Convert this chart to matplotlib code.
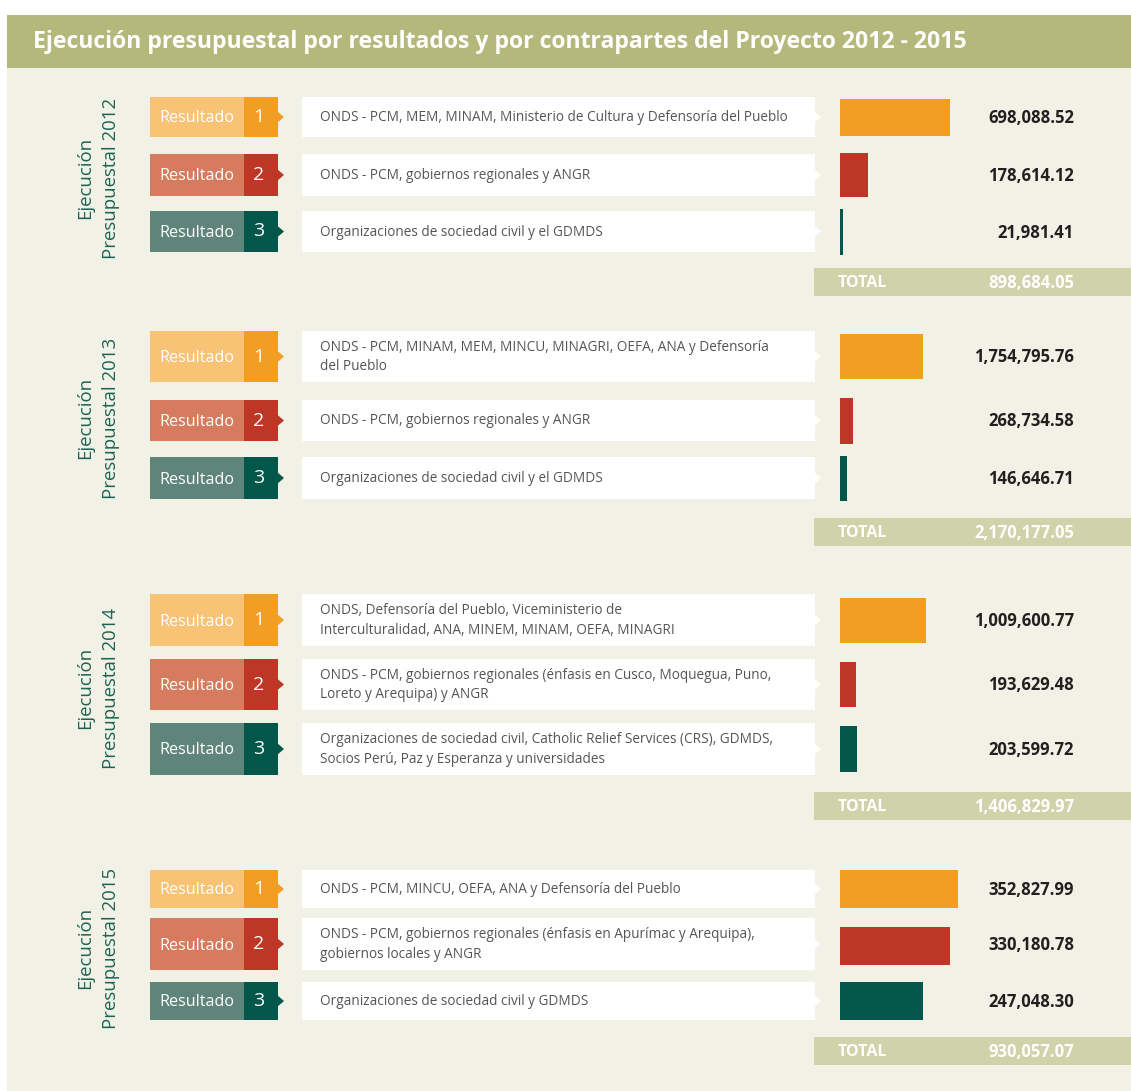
import matplotlib
matplotlib.use("Agg")
import matplotlib.pyplot as plt
from matplotlib.patches import Rectangle, Polygon

plt.rcParams['font.family'] = ['Open Sans', 'DejaVu Sans']

# ---------------- data ----------------
title = "Ejecución presupuestal por resultados y por contrapartes del Proyecto 2012 - 2015"
years = ["2012", "2013", "2014", "2015"]
result_labels = ["1", "2", "3"]
partners_2012 = ["ONDS - PCM, MEM, MINAM, Ministerio de Cultura y Defensoría del Pueblo",
                 "ONDS - PCM, gobiernos regionales y ANGR",
                 "Organizaciones de sociedad civil y el GDMDS"]
partners_2013 = ["ONDS - PCM, MINAM, MEM, MINCU, MINAGRI, OEFA, ANA y Defensoría\ndel Pueblo",
                 "ONDS - PCM, gobiernos regionales y ANGR",
                 "Organizaciones de sociedad civil y el GDMDS"]
partners_2014 = ["ONDS, Defensoría del Pueblo, Viceministerio de\nInterculturalidad, ANA, MINEM, MINAM, OEFA, MINAGRI",
                 "ONDS - PCM, gobiernos regionales (énfasis en Cusco, Moquegua, Puno,\nLoreto y Arequipa) y ANGR",
                 "Organizaciones de sociedad civil, Catholic Relief Services (CRS), GDMDS,\nSocios Perú, Paz y Esperanza y universidades"]
partners_2015 = ["ONDS - PCM, MINCU, OEFA, ANA y Defensoría del Pueblo",
                 "ONDS - PCM, gobiernos regionales (énfasis en Apurímac y Arequipa),\ngobiernos locales y ANGR",
                 "Organizaciones de sociedad civil y GDMDS"]
values_2012 = [698088.52, 178614.12, 21981.41]
values_2013 = [1754795.76, 268734.58, 146646.71]
values_2014 = [1009600.77, 193629.48, 203599.72]
values_2015 = [352827.99, 330180.78, 247048.30]
totals = [898684.05, 2170177.05, 1406829.97, 930057.07]

partners = [partners_2012, partners_2013, partners_2014, partners_2015]
values = [values_2012, values_2013, values_2014, values_2015]

# ---------------- style / layout (pixels) ----------------
W, H = 1131, 1091
BG = "#f1f1e5"
HEADER = "#b4b87a"
TOTALC = "#d0d2aa"
light = ["#f8c374", "#d67b5d", "#5f857a"]
dark = ["#f29e24", "#bd3626", "#03574a"]
yearc = "#1d6354"

row_geom = [[(97, 137), (154, 196), (211, 252)],
            [(331, 382), (400, 441), (457, 499)],
            [(594, 646), (659, 710), (723, 775)],
            [(870, 908), (918, 970), (982, 1020)]]
bar_geom = [[(99, 136), (153, 197), (209, 255)],
            [(334, 379), (398, 444), (456, 501)],
            [(598, 643), (662, 707), (726, 772)],
            [(870, 908), (927, 965), (982, 1020)]]
total_geom = [(268, 296), (518, 546), (792, 820), (1037, 1065)]
year_center = [178, 418, 688, 948]
bar_max_px = [110, 83, 86, 118]
BAR_X0 = 840

fig = plt.figure(figsize=(W / 100, H / 100), dpi=100)
fig.patch.set_facecolor("white")
ax = fig.add_axes([0, 0, 1, 1])
ax.set_xlim(0, W)
ax.set_ylim(H, 0)
ax.axis("off")

# background
ax.add_patch(Rectangle((7, 68), W - 7, H - 68, facecolor=BG, edgecolor="none"))
ax.add_patch(Rectangle((7, 15), W - 7, 53, facecolor=HEADER, edgecolor="none"))
ax.text(33, 42, title, color="white", fontsize=16.6, fontweight="bold",
        ha="left", va="center")

def fmt(v):
    return f"{v:,.2f}"

for yi, year in enumerate(years):
    # year label
    ax.text(85, year_center[yi], "Ejecución", rotation=90, color=yearc,
            fontsize=13.4, ha="center", va="center")
    ax.text(111, year_center[yi], "Presupuestal " + year, rotation=90, color=yearc,
            fontsize=13.4, ha="center", va="center")
    for ri in range(3):
        t, b = row_geom[yi][ri]
        cy = (t + b) / 2
        h = b - t
        # resultado boxes
        ax.add_patch(Rectangle((150, t), 94, h, facecolor=light[ri], edgecolor="none"))
        ax.add_patch(Rectangle((244, t), 34, h, facecolor=dark[ri], edgecolor="none"))
        ax.add_patch(Polygon([(277, cy - 6), (284, cy), (277, cy + 6)],
                             closed=True, facecolor=dark[ri], edgecolor="none"))
        ax.text(197, cy + 1.5, "Resultado", color="white", fontsize=11.6,
                ha="center", va="center")
        ax.text(259, cy, result_labels[ri], color="white", fontsize=14,
                ha="center", va="center")
        # white box
        ax.add_patch(Rectangle((302, t), 513, h, facecolor="white", edgecolor="none"))
        ax.add_patch(Polygon([(814, cy - 6), (821, cy), (814, cy + 6)],
                             closed=True, facecolor="white", edgecolor="none"))
        ax.text(320, cy + 0.5, partners[yi][ri], color="#555555", fontsize=9.8,
                ha="left", va="center", linespacing=1.45)
        # value
        ax.text(1074, cy + 1, fmt(values[yi][ri]), color="#231f20", fontsize=12,
                fontweight="bold", ha="right", va="center")
    # total band
    tt, tb = total_geom[yi]
    ax.add_patch(Rectangle((814, tt), W - 814, tb - tt, facecolor=TOTALC, edgecolor="none"))
    ax.text(838, (tt + tb) / 2 + 1, "TOTAL", color="white", fontsize=11.5,
            fontweight="bold", ha="left", va="center")
    ax.text(1074, (tt + tb) / 2 + 1, fmt(totals[yi]), color="white", fontsize=12,
            fontweight="bold", ha="right", va="center")

    # bars, drawn through a per-year value axis
    vmax = max(values[yi])
    bax = fig.add_axes([BAR_X0 / W, 0, bar_max_px[yi] / W, 1])
    bax.set_xlim(0, vmax)
    bax.set_ylim(H, 0)
    bax.axis("off")
    bax.patch.set_alpha(0)
    centers = [(a + b) / 2 for a, b in bar_geom[yi]]
    heights = [b - a for a, b in bar_geom[yi]]
    bax.barh(centers, values[yi], height=heights, left=0, color=dark, edgecolor="none")

fig.savefig("out.png", dpi=100, facecolor=fig.get_facecolor())
